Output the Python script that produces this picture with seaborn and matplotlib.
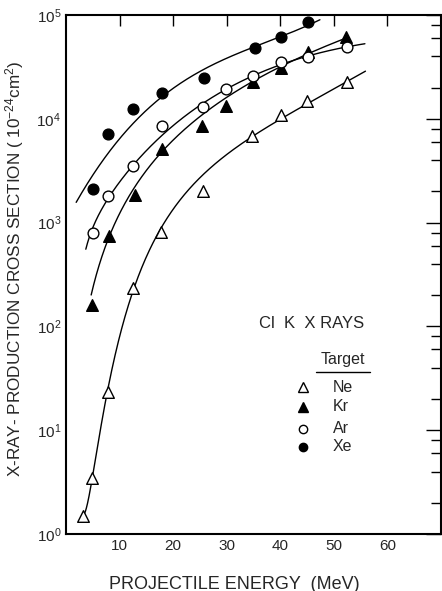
import numpy as np
import pandas as pd
import matplotlib
matplotlib.use("Agg")
import matplotlib.pyplot as plt
import seaborn as sns
from matplotlib.ticker import LogLocator, FixedLocator, NullFormatter, LogFormatterMathtext

targets = ["Ne", "Kr", "Ar", "Xe"]
ne_energy = [3.1, 4.9, 7.9, 12.45, 17.7, 25.6, 34.8, 40.1, 45.0, 52.4]
ne_sigma = [1.5, 3.44, 23.5, 235, 820, 2030, 6830, 10900, 14900, 22500]
kr_energy = [4.8, 8.1, 12.8, 18.0, 25.3, 29.9, 35.0, 40.1, 45.2, 52.2]
kr_sigma = [160, 740, 1830, 5080, 8500, 13400, 22800, 30700, 43700, 61000]
ar_energy = [5.0, 7.9, 12.45, 18.0, 25.6, 29.9, 35.0, 40.1, 45.2, 52.4]
ar_sigma = [790, 1800, 3500, 8530, 13100, 19200, 25800, 35000, 39200, 48900]
xe_energy = [5.0, 7.9, 12.6, 18.0, 25.8, 35.2, 40.1, 45.2]
xe_sigma = [2100, 7100, 12500, 17800, 24600, 48400, 61000, 85000]

# ---- hand-drawn guide curves (energy, log10 sigma) ----
ne_curve_energy = [3.1, 4.9, 7.9, 12.3, 17.6, 25.0, 34.7, 40.0, 44.9, 52.4, 55.9]
ne_curve_log = [0.19, 0.54, 1.38, 2.38, 2.93, 3.36, 3.83, 4.03, 4.17, 4.36, 4.43]
kr_curve_energy = [4.7, 8.1, 12.9, 17.6, 25.0, 34.7, 40.0, 44.9, 52.1]
kr_curve_log = [2.30, 2.89, 3.29, 3.725, 4.005, 4.357, 4.487, 4.63, 4.775]
ar_curve_energy = [3.7, 5.0, 7.9, 12.45, 18.0, 25.6, 35.0, 40.0, 45.0, 52.4, 55.8]
ar_curve_log = [2.76, 2.91, 3.27, 3.555, 3.83, 4.13, 4.415, 4.544, 4.615, 4.689, 4.711]
xe_curve_energy = [1.9, 5.0, 8.6, 12.6, 17.9, 25.0, 35.3, 40.0, 45.2, 47.4]
xe_curve_log = [3.23, 3.41, 3.70, 3.98, 4.24, 4.44, 4.69, 4.79, 4.91, 4.95]
curve_degree = [4, 4, 4, 3]

x_ticks = [10, 20, 30, 40, 50, 60]

energies = [ne_energy, kr_energy, ar_energy, xe_energy]
sigmas = [ne_sigma, kr_sigma, ar_sigma, xe_sigma]
curves = [(ne_curve_energy, ne_curve_log), (kr_curve_energy, kr_curve_log),
          (ar_curve_energy, ar_curve_log), (xe_curve_energy, xe_curve_log)]
filled = [False, True, False, True]
markers = ["^", "^", "o", "o"]

sns.set_theme(style="white")
plt.rcParams["font.family"] = ["Liberation Sans", "DejaVu Sans"]
plt.rcParams["mathtext.fontset"] = "custom"
plt.rcParams["mathtext.rm"] = "Liberation Sans"
plt.rcParams["mathtext.it"] = "Liberation Sans"

fig = plt.figure(figsize=(4.42, 5.91), dpi=100)
ax = fig.add_axes([0.1493, 0.0964, 0.8484, 0.8782])

# smooth guide curves: least-squares polynomial through the read curve knots
for (ce, cl), deg in zip(curves, curve_degree):
    if deg == 3:
        # the Xe guide is nearly straight at low energy: fit in linear energy
        coef = np.polyfit(ce, cl, deg)
        xx = np.linspace(ce[0], ce[-1], 300)
        yy = 10 ** np.polyval(coef, xx)
    else:
        coef = np.polyfit(np.log10(ce), cl, deg)
        xx = np.geomspace(ce[0], ce[-1], 300)
        yy = 10 ** np.polyval(coef, np.log10(xx))
    sns.lineplot(x=xx, y=yy, ax=ax, color="black", lw=1.0, sort=False)

# data points
for e, s, m, f in zip(energies, sigmas, markers, filled):
    df = pd.DataFrame({"E": e, "sigma": s})
    sns.scatterplot(data=df, x="E", y="sigma", ax=ax, marker=m,
                    color="black" if f else "white", edgecolor="black",
                    linewidth=1.0, s=70 if m == "^" else 60, zorder=5)

ax.set_yscale("log")
ax.set_xlim(0, 70)
ax.set_ylim(1, 1e5)
ax.xaxis.set_major_locator(FixedLocator(x_ticks))
ax.set_xticklabels([str(t) for t in x_ticks])
ax.yaxis.set_major_locator(LogLocator(base=10, numticks=10))
ax.yaxis.set_minor_locator(LogLocator(base=10, subs=(2, 4, 6, 8), numticks=20))
ax.yaxis.set_major_formatter(LogFormatterMathtext())
ax.yaxis.set_minor_formatter(NullFormatter())

ax.tick_params(axis="both", which="both", direction="in", top=True, right=True,
               color="black", labelsize=11, width=1.0)
ax.tick_params(axis="x", which="major", length=8)
ax.tick_params(axis="y", which="major", length=11)
ax.tick_params(axis="y", which="minor", length=7)
for sp in ax.spines.values():
    sp.set_color("black")
    sp.set_linewidth(1.5)

ax.set_xlabel("PROJECTILE ENERGY  (MeV)", fontsize=13)
ax.set_ylabel("X-RAY- PRODUCTION CROSS SECTION ( $10^{-24}$cm$^{2}$)", fontsize=12.3)
ax.xaxis.set_label_coords(0.45, -0.080)
ax.yaxis.set_label_coords(-0.106, 0.512)

# annotation and legend
ax.text(0.656, 0.405, "Cl  K  X RAYS", transform=ax.transAxes, ha="center",
        va="center", fontsize=12)
ax.text(0.739, 0.337, "Target", transform=ax.transAxes, ha="center",
        va="center", fontsize=11.5)
ax.plot([0.667, 0.811], [0.312, 0.312], transform=ax.transAxes, color="black", lw=1)
leg_y = [0.283, 0.245, 0.203, 0.168]
for name, m, f, yy in zip(targets, markers, filled, leg_y):
    ax.plot([0.632], [yy], transform=ax.transAxes, marker=m, ms=7 if m == "^" else 6,
            mfc="black" if f else "white", mec="black", mew=1, ls="none")
    ax.text(0.712, yy, name, transform=ax.transAxes, ha="left", va="center", fontsize=11.5)

fig.savefig("out.png", dpi=100)
